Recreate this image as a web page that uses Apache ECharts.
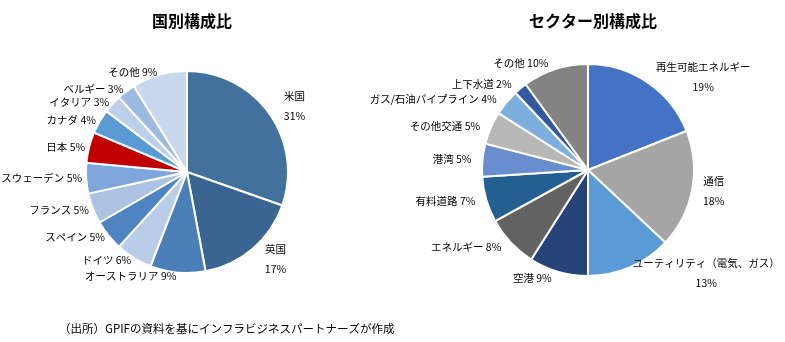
<!DOCTYPE html>
<html><head><meta charset="utf-8">
<script src="https://cdn.jsdelivr.net/npm/echarts@6/dist/echarts.min.js"></script>
<style>html,body{margin:0;padding:0;background:#fff}#c{width:785px;height:342px}</style>
</head><body><div id="c"></div>
<script>
const countryNames = ['米国','英国','オーストラリア','ドイツ','スペイン','フランス','スウェーデン','日本','カナダ','イタリア','ベルギー','その他'];
const countryValues = [31,17,9,6,5,5,5,5,4,3,3,9];
const countryColors = ['#41719c','#3a6590','#4a7fb8','#b9cce8','#4e84c2','#adc3e4','#7ea6da','#c00000','#5b9bd5','#bdd0ea','#9dbbe0','#c9d8ee'];
const sectorNames = ['再生可能エネルギー','通信','ユーティリティ（電気、ガス）','空港','エネルギー','有料道路','港湾','その他交通','ガス/石油パイプライン','上下水道','その他'];
const sectorValues = [19,18,13,9,8,7,5,5,4,2,10];
const sectorColors = ['#4472c4','#a5a5a5','#5b9bd5','#264478','#636363','#255e91','#698ed0','#b7b7b7','#7cafdd','#335aa1','#848484'];
const twoLineCountry = ['米国','英国'];
const twoLineSector = ['再生可能エネルギー','通信','ユーティリティ（電気、ガス）'];

const FONT = '"Noto Sans CJK JP", sans-serif';
const FS = 10.5;
function mk(names, vals, colors, twoLine, twoLen){
  return names.map((n,i)=>{
    const d = {name:n, value:vals[i], itemStyle:{color:colors[i]},
      label: twoLine.includes(n) ? {
        formatter: p => '{n|' + p.name + '}\n{v|' + p.value + '%}',
        rich:{
          n:{align:'center', fontSize:FS, fontFamily:FONT, color:'#000', lineHeight:20},
          v:{align:'center', fontSize:FS, fontFamily:FONT, color:'#000', lineHeight:20}
        }
      } : {formatter:'{b} {c}%'}};
    if (twoLine.includes(n) && twoLen) d.labelLine = {show:false, length:twoLen, length2:2};
    return d;
  });
}
const chart = echarts.init(document.getElementById('c'));
const lblL = {show:true, position:'outside', color:'#000', fontSize:FS, fontFamily:FONT, alignTo:'none', overflow:'none', distanceToLabelLine:1};
const lblR = {show:true, position:'outside', color:'#000', fontSize:FS, fontFamily:FONT, alignTo:'none', overflow:'none', distanceToLabelLine:3};
chart.setOption({
  animation:false,
  title:[
    {text:'国別構成比', left:187, top:8, textAlign:'center', textStyle:{fontSize:16, fontWeight:'bold', fontFamily:FONT, color:'#000'}},
    {text:'セクター別構成比', left:588, top:8, textAlign:'center', textStyle:{fontSize:16, fontWeight:'bold', fontFamily:FONT, color:'#000'}},
    {text:'（出所）GPIFの資料を基にインフラビジネスパートナーズが作成', left:54, top:318, textStyle:{fontSize:11.5, fontWeight:'normal', fontFamily:FONT, color:'#000'}}
  ],
  series:[
    {type:'pie', center:[187,172], radius:[0,101], startAngle:90, clockwise:true,
     itemStyle:{borderColor:'#fff', borderWidth:2}, label:lblL,
     labelLine:{show:false, length:3, length2:0}, emphasis:{disabled:true},
     data:mk(countryNames,countryValues,countryColors,twoLineCountry,14)},
    {type:'pie', center:[588,170], radius:[0,106], startAngle:90, clockwise:true,
     itemStyle:{borderColor:'#fff', borderWidth:2}, label:lblR,
     labelLine:{show:false, length:6, length2:2}, emphasis:{disabled:true},
     data:mk(sectorNames,sectorValues,sectorColors,twoLineSector,0)}
  ]
});
</script></body></html>
